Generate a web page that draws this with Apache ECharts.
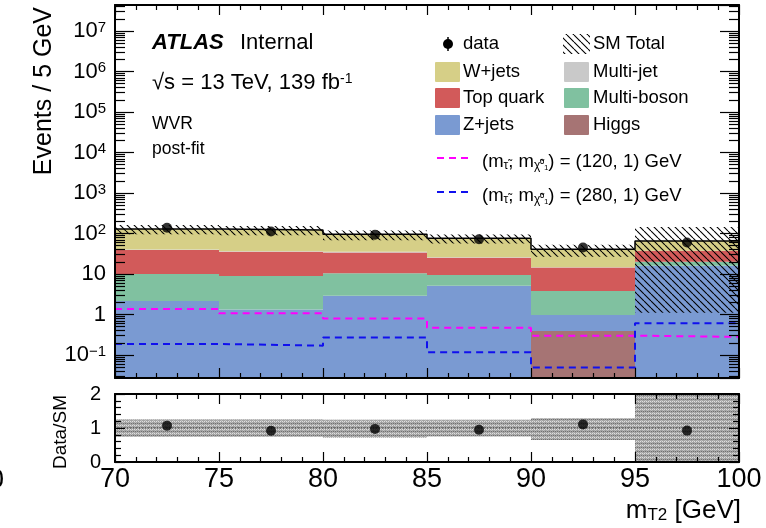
<!DOCTYPE html>
<html><head><meta charset="utf-8">
<script src="https://cdn.jsdelivr.net/npm/echarts@6/dist/echarts.min.js"></script>
<style>html,body{margin:0;padding:0;background:#fff}#c{width:766px;height:528px}#err{position:absolute;left:130px;top:300px;font:11px monospace;color:red;background:#fff;max-width:600px}</style>
</head><body><div id="c"></div><div id="err"></div>
<script>
window.onerror = function (msg) { document.getElementById('err').innerText += 'ERR: ' + msg + '\n'; };
// ---------------- data ----------------
const binEdges   = [70, 75, 80, 85, 90, 95, 100];
const xTicks     = [70, 75, 80, 85, 90, 95, 100];
// stacked backgrounds, bottom to top
const higgs      = [0.01, 0.01, 0.01, 0.01, 0.39, 0.01];
const zjets      = [2.14, 1.33, 2.89, 5.09, 0.58, 16.0];
const multiboson = [7.85, 7.57, 7.5, 4.3, 2.83, 4.0];
const topquark   = [29.0, 26.6, 23.6, 15.9, 10.6, 17.3];
const multijet   = [1.0, 1.0, 1.5, 0.5, 0.2, 0.3];
const wjets      = [90.0, 85.5, 60.0, 50.0, 26.1, 27.4];
const dataVals   = [139, 112, 93, 72, 45, 60];
const smErrUp    = [0.25, 0.25, 0.24, 0.24, 0.29, 1.23];
const smErrDown  = [0.26, 0.26, 0.29, 0.25, 0.35, 0.983];
const sig120     = [1.37, 1.07, 0.79, 0.47, 0.30, 0.28];
const sig280     = [0.187, 0.17, 0.27, 0.117, 0.049, 0.61];

// ---------------- config ----------------
const FONT = '"Liberation Sans", Arial, Helvetica, sans-serif';
const yMin = 0.027, yMax = 4.39e7;
const stackDefs = [
  {name:'Higgs', vals:higgs, color:'#a67474'},
  {name:'Z+jets', vals:zjets, color:'#7a9ad2'},
  {name:'Multi-boson', vals:multiboson, color:'#80c1a0'},
  {name:'Top quark', vals:topquark, color:'#d25a5a'},
  {name:'Multi-jet', vals:multijet, color:'#c9c9c9'},
  {name:'W+jets', vals:wjets, color:'#d6cf87'}
];

function hatchPattern(size, color, lw) {
  const c = document.createElement('canvas'); c.width = size; c.height = size;
  const ctx = c.getContext('2d'); ctx.strokeStyle = color; ctx.lineWidth = lw;
  ctx.beginPath();
  [-size, 0, size].forEach(o => { ctx.moveTo(o, 0); ctx.lineTo(o + size, size); });
  ctx.stroke();
  return {image: c, repeat: 'repeat'};
}
function dotPattern() {
  const c = document.createElement('canvas'); c.width = 4; c.height = 4;
  const ctx = c.getContext('2d');
  ctx.fillStyle = '#a4a4a4'; ctx.fillRect(0, 0, 4, 4);
  ctx.fillStyle = '#e0e0e0'; ctx.fillRect(0, 1, 1, 1); ctx.fillRect(2, 1, 1, 1);
  ctx.fillStyle = '#707070'; ctx.fillRect(1, 3, 1, 1); ctx.fillRect(3, 3, 1, 1);
  ctx.fillStyle = '#c0c0c0'; ctx.fillRect(1, 0, 1, 1); ctx.fillRect(3, 2, 1, 1);
  return {image: c, repeat: 'repeat'};
}
const hatch = hatchPattern(7, '#000', 1.1);
const dots = dotPattern();

const nBins = binEdges.length - 1;
const centers = [];
for (let i = 0; i < nBins; i++) centers.push((binEdges[i] + binEdges[i + 1]) / 2);
const totals = new Array(nBins).fill(0);

// log minor tick values (2..9 per decade)
const minorVals = [];
for (let e = -2; e <= 8; e++) for (let m = 2; m <= 9; m++) {
  const v = m * Math.pow(10, e);
  if (v > yMin && v < yMax) minorVals.push(v);
}

function rectRender(fill) {
  return function (params, api) {
    const p0 = api.coord([api.value(0), api.value(3)]);
    const p1 = api.coord([api.value(1), api.value(2)]);
    return {type: 'rect', shape: {x: p0[0], y: p0[1], width: p1[0] - p0[0], height: p1[1] - p0[1]},
            style: {fill: fill, stroke: null}};
  };
}

const series = [];
let cum = new Array(nBins).fill(yMin);
stackDefs.forEach(sd => {
  const items = [];
  for (let i = 0; i < nBins; i++) {
    const lo = cum[i] <= yMin ? yMin : cum[i];
    const hi = (cum[i] <= yMin ? 0 : cum[i]) + sd.vals[i];
    items.push([binEdges[i], binEdges[i + 1], lo, Math.max(hi, yMin * 0.5)]);
    cum[i] = hi;
  }
  series.push({type: 'custom', name: sd.name, xAxisIndex: 0, yAxisIndex: 0, clip: true, z: 2,
    encode: {x: [0, 1], y: [2, 3]}, renderItem: rectRender(sd.color), data: items});
});
for (let i = 0; i < nBins; i++) totals[i] = cum[i];

function stepPts(vals) {
  const pts = [];
  vals.forEach((v, i) => { pts.push([binEdges[i], v]); pts.push([binEdges[i + 1], v]); });
  return pts;
}
series.push({type: 'line', xAxisIndex: 0, yAxisIndex: 0, data: stepPts(totals), showSymbol: false, symbol: 'none',
  lineStyle: {color: '#000', width: 1.5}, z: 4, clip: true});
series.push({type: 'line', xAxisIndex: 0, yAxisIndex: 0, data: stepPts(sig120), showSymbol: false, symbol: 'none',
  lineStyle: {color: '#ff00ff', width: 2, type: [7, 5]}, z: 4, clip: true});
series.push({type: 'line', xAxisIndex: 0, yAxisIndex: 0, data: stepPts(sig280), showSymbol: false, symbol: 'none',
  lineStyle: {color: '#1010ee', width: 2, type: [7, 5]}, z: 4, clip: true});
series.push({type: 'scatter', xAxisIndex: 0, yAxisIndex: 0, data: centers.map((c, i) => [c, dataVals[i]]),
  symbol: 'circle', symbolSize: 10, itemStyle: {color: '#000'}, z: 5});

// ratio panel
const ratioVals = dataVals.map((d, i) => d / totals[i]);
series.push({type: 'line', xAxisIndex: 2, yAxisIndex: 2, data: [[binEdges[0], 1], [binEdges[nBins], 1]], symbol: 'none',
  lineStyle: {color: '#444', width: 1, type: [1, 2]}, z: 3});
series.push({type: 'scatter', xAxisIndex: 2, yAxisIndex: 2, data: centers.map((c, i) => [c, ratioVals[i]]),
  symbol: 'circle', symbolSize: 10, itemStyle: {color: '#000'}, z: 5});

// pattern-filled bands
series.push({type: 'custom', name: 'SM Total', xAxisIndex: 0, yAxisIndex: 0, clip: true, z: 3,
  encode: {x: [0, 1], y: [2, 3]}, renderItem: rectRender(hatch),
  data: totals.map((t, i) => [binEdges[i], binEdges[i + 1], Math.max(t * (1 - smErrDown[i]), yMin), t * (1 + smErrUp[i])])});
series.push({type: 'custom', xAxisIndex: 2, yAxisIndex: 2, clip: true, z: 2,
  encode: {x: [0, 1], y: [2, 3]}, renderItem: rectRender(dots),
  data: totals.map((t, i) => [binEdges[i], binEdges[i + 1], 1 - smErrDown[i], 1 + smErrUp[i]])});

// ---------------- axes ----------------
const lineBlk = {show: true, onZero: false, lineStyle: {color: '#000', width: 2}};
function xAx(grid, pos, labels) {
  return {type: 'value', gridIndex: grid, position: pos, min: 70, max: 100, interval: 5, z: 10,
    axisLine: lineBlk, splitLine: {show: false},
    axisTick: {show: true, inside: true, length: 10, lineStyle: {color: '#000', width: 1.2}},
    minorTick: {show: true, splitNumber: 5, length: 5, lineStyle: {color: '#000', width: 1.2}},
    axisLabel: labels ? {show: true, margin: 4, fontSize: 27, fontFamily: FONT, color: '#000',
      formatter: v => String(v)} : {show: false}};
}
const supRich = {
  b: {fontSize: 22, fontFamily: FONT, color: '#000', verticalAlign: 'bottom', lineHeight: 22},
  s: {fontSize: 15, fontFamily: FONT, color: '#000', verticalAlign: 'top', lineHeight: 15, padding: [0, 0, 10, 0]}
};
function logFmt(v) {
  const e = Math.round(Math.log10(v));
  if (e === 0) return '{b|1}';
  if (e === 1) return '{b|10}';
  return '{b|10}{s|' + (e < 0 ? '\u2212' + (-e) : e) + '}';
}
function yLog(pos, labels) {
  return {type: 'log', logBase: 10, gridIndex: 0, position: pos, min: yMin, max: yMax, splitNumber: 5, z: 10,
    axisLine: lineBlk, splitLine: {show: false}, minorTick: {show: false},
    axisTick: {show: true, inside: true, length: 19, lineStyle: {color: '#000', width: 1.2}},
    axisLabel: labels ? {show: true, margin: 9, showMinLabel: false, showMaxLabel: false,
      formatter: logFmt, rich: supRich} : {show: false}};
}
// overlay axes (same box as the main panel) that carry only the 2..9 log minor ticks
function yLogMinor(pos) {
  return {type: 'log', logBase: 10, gridIndex: 2, position: pos, min: yMin, max: yMax, z: 11,
    axisLine: {show: false}, splitLine: {show: false}, minorTick: {show: false}, axisLabel: {show: false},
    axisTick: {show: true, inside: true, length: 10, customValues: minorVals, lineStyle: {color: '#000', width: 1.2}}};
}
function yRatio(pos, labels) {
  return {type: 'value', gridIndex: 1, position: pos, min: 0, max: 2, interval: 1, z: 10,
    axisLine: lineBlk, splitLine: {show: false},
    axisTick: {show: true, inside: true, length: 10, lineStyle: {color: '#000', width: 1.2}},
    minorTick: {show: true, splitNumber: 5, length: 6, lineStyle: {color: '#000', width: 1.2}},
    axisLabel: labels ? {show: true, margin: 14, fontSize: 20, fontFamily: FONT, color: '#000'} : {show: false}};
}

// ---------------- legend & texts (graphic) ----------------
const T = (x, y, text, extra) => Object.assign({type: 'text', x: x, y: y, z: 100,
  style: Object.assign({text: text, fill: '#000', font: '18.5px ' + FONT, align: 'left', verticalAlign: 'middle',
    textAlign: 'left', textVerticalAlign: 'middle'}, (extra && extra.style) || {})},
  extra && extra.rotation !== undefined ? {rotation: extra.rotation} : {});

const graphics = [];
graphics.push(T(152, 43, 'ATLAS', {style: {font: 'italic bold 22px ' + FONT}}));
graphics.push(T(240, 43, 'Internal', {style: {font: '22px ' + FONT}}));
graphics.push(T(152, 83, '{b|\u221As = 13 TeV, 139 fb}{s|-1}', {style: {font: '22px ' + FONT,
  rich: {b: {fontSize: 22, fontFamily: FONT, verticalAlign: 'bottom', lineHeight: 22},
         s: {fontSize: 14, fontFamily: FONT, verticalAlign: 'top', lineHeight: 14, padding: [0, 0, 10, 0]}}}}));
graphics.push(T(152, 124, 'WVR', {style: {font: '17.5px ' + FONT}}));
graphics.push(T(152, 149, 'post-fit', {style: {font: '17.5px ' + FONT}}));

// legend
const legCols = [{box: 435, text: 463}, {box: 564, text: 593}];
const legRows = [44, 72, 98, 125];
graphics.push({type: 'line', z: 100, shape: {x1: 448, y1: 37, x2: 448, y2: 51}, style: {stroke: '#000', lineWidth: 1.5}});
graphics.push({type: 'circle', z: 100, shape: {cx: 448, cy: legRows[0], r: 5}, style: {fill: '#000'}});
graphics.push(T(legCols[0].text, legRows[0], 'data'));
graphics.push({type: 'rect', z: 100, shape: {x: 563, y: legRows[0] - 10, width: 27, height: 20}, style: {fill: hatch}});
graphics.push(T(legCols[1].text, legRows[0], 'SM Total'));
const legendOrder = [['W+jets', 'Multi-jet'], ['Top quark', 'Multi-boson'], ['Z+jets', 'Higgs']];
legendOrder.forEach((pair, r) => {
  pair.forEach((nm, c) => {
    const sd = stackDefs.find(s => s.name === nm);
    graphics.push({type: 'rect', z: 100, shape: {x: legCols[c].box, y: legRows[r + 1] - 10, width: 25, height: 20, r: 1},
      style: {fill: sd.color}});
    graphics.push(T(legCols[c].text, legRows[r + 1], nm));
  });
});
const sigRich = {
  n: {fontSize: 18.5, fontFamily: FONT, verticalAlign: 'top', lineHeight: 19, padding: [0, 0, 7, 0]},
  s: {fontSize: 12, fontFamily: FONT, verticalAlign: 'bottom', lineHeight: 13}
};
[[158, '#ff00ff', '120'], [192, '#1010ee', '280']].forEach(([y, col, m]) => {
  graphics.push({type: 'line', z: 100, shape: {x1: 437, y1: y, x2: 472, y2: y},
    style: {stroke: col, lineWidth: 2, lineDash: [7, 5]}});
  graphics.push(T(482, y + 4, '{n|(m}{s|\u03C4\u0303}{n|, m}{s|\u03C7\u0303\u2070\u2081}{n|) = (' + m + ', 1) GeV}',
    {style: {rich: sigRich}}));
});

// axis titles
graphics.push(T(44, 7, 'Events / 5 GeV', {rotation: Math.PI / 2,
  style: {font: '25px ' + FONT, align: 'right', textAlign: 'right'}}));
graphics.push(T(61, 432, 'Data/SM', {rotation: Math.PI / 2,
  style: {font: '19px ' + FONT, align: 'center', textAlign: 'center'}}));
graphics.push(T(741, 511, '{m|m}{t|T2}{m| [GeV]}', {style: {align: 'right', textAlign: 'right',
  rich: {m: {fontSize: 26, fontFamily: FONT, verticalAlign: 'top', lineHeight: 26, padding: [0, 0, 6, 0]},
         t: {fontSize: 17, fontFamily: FONT, verticalAlign: 'bottom', lineHeight: 17}}}}));
graphics.push(T(4, 481, '0', {style: {font: '27px ' + FONT, align: 'right', textAlign: 'right'}}));

const option = {
  animation: false,
  backgroundColor: '#fff',
  textStyle: {fontFamily: FONT},
  grid: [
    {left: 115, right: 27, top: 5, height: 373, containLabel: false},
    {left: 115, right: 27, top: 394, height: 68, containLabel: false},
    {left: 115, right: 27, top: 5, height: 373, containLabel: false}
  ],
  xAxis: [xAx(0, 'bottom', false), xAx(0, 'top', false), xAx(1, 'bottom', true), xAx(1, 'top', false),
          {type: 'value', gridIndex: 2, min: 70, max: 100, show: false}],
  yAxis: [yLog('left', true), yLog('right', false), yRatio('left', true), yRatio('right', false),
          yLogMinor('left'), yLogMinor('right')],
  series: series,
  graphic: graphics
};
const chart = echarts.init(document.getElementById('c'), null, {renderer: 'canvas'});
try { chart.setOption(option); } catch (err) { document.getElementById('err').innerText += 'EXC: ' + err.message + '\n'; }
</script>
</body></html>
